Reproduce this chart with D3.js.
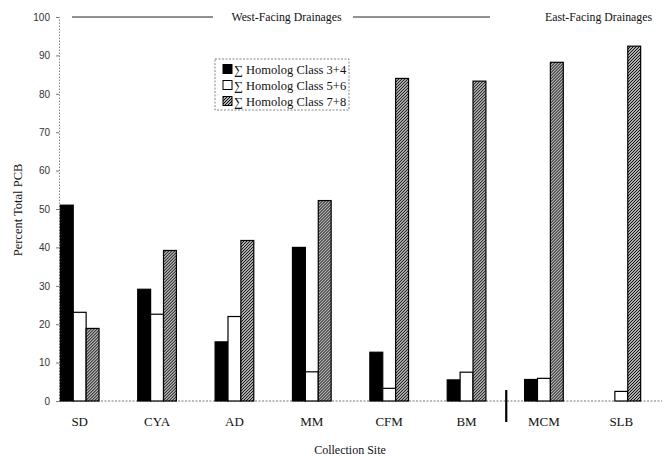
<!DOCTYPE html>
<html>
<head>
<meta charset="utf-8">
<script src="https://cdn.jsdelivr.net/npm/d3@7"></script>
<style>
  body { margin: 0; background: #fff; }
  svg { display: block; }
  .serif { font-family: "Liberation Serif", "Times New Roman", serif; fill: #111; }
  .tick text { font-family: "Liberation Sans", Arial, sans-serif; font-size: 10px; fill: #333; }
</style>
</head>
<body>
<svg width="665" height="456"></svg>
<script>
// Data
var sites = ['SD', 'CYA', 'AD', 'MM', 'CFM', 'BM', 'MCM', 'SLB'];
var class34 = [51, 29.1, 15.4, 40, 12.7, 5.5, 5.6, 0];
var class56 = [23.1, 22.6, 22, 7.6, 3.3, 7.5, 5.9, 2.5];
var class78 = [18.9, 39.2, 41.8, 52.2, 84, 83.3, 88.2, 92.4];
var seriesNames = ['\u2211 Homolog Class 3+4', '\u2211 Homolog Class 5+6', '\u2211 Homolog Class 7+8'];
var yTicks = [0, 10, 20, 30, 40, 50, 60, 70, 80, 90, 100];

var svg = d3.select('svg');

// hatch pattern for class 7+8
var defs = svg.append('defs');
var pat = defs.append('pattern')
    .attr('id', 'hatch')
    .attr('patternUnits', 'userSpaceOnUse')
    .attr('width', 3)
    .attr('height', 3);
pat.append('rect').attr('width', 3).attr('height', 3).attr('fill', '#fff');
pat.append('path')
    .attr('d', 'M-0.75,0.75 L0.75,-0.75 M0,3 L3,0 M2.25,3.75 L3.75,2.25')
    .attr('stroke', '#000')
    .attr('stroke-width', 1.15);

var fills = ['#000', '#fff', 'url(#hatch)'];

var x0 = d3.scaleBand().domain(sites).range([41, 660]).paddingInner(0.5).paddingOuter(0.25);
var x1 = d3.scaleBand().domain([0, 1, 2]).range([0, x0.bandwidth()]);
var y = d3.scaleLinear().domain([0, 100]).range([401, 17]);

// y axis (dotted line)
var yAx = svg.append('g')
    .attr('transform', 'translate(59,0)')
    .call(d3.axisLeft(y).tickValues(yTicks).tickSize(3).tickPadding(6));
yAx.select('.domain')
    .attr('stroke', '#888')
    .attr('stroke-dasharray', '1.5,1.5');
yAx.selectAll('.tick line').attr('stroke', '#777');

// baseline
svg.append('line')
    .attr('x1', 59).attr('x2', 662)
    .attr('y1', y(0)).attr('y2', y(0))
    .attr('stroke', '#777')
    .attr('stroke-dasharray', '2,1.5');

// bars
var rows = sites.map(function(s, i) {
    return {site: s, vals: [class34[i], class56[i], class78[i]]};
});

var groups = svg.selectAll('.grp')
    .data(rows)
    .enter().append('g')
    .attr('class', 'grp')
    .attr('transform', function(d) { return 'translate(' + x0(d.site) + ',0)'; });

groups.selectAll('rect')
    .data(function(d) { return d.vals; })
    .enter().append('rect')
    .attr('x', function(d, i) { return x1(i); })
    .attr('y', function(d) { return y(d); })
    .attr('width', x1.bandwidth())
    .attr('height', function(d) { return y(0) - y(d); })
    .attr('fill', function(d, i) { return fills[i]; })
    .attr('stroke', '#000')
    .attr('stroke-width', function(d) { return d === 0 ? 1.8 : 1.2; });

// x labels
svg.selectAll('.xlab')
    .data(sites)
    .enter().append('text')
    .attr('class', 'serif')
    .attr('x', function(d) { return x0(d) + x0.bandwidth() / 2; })
    .attr('y', 426)
    .attr('text-anchor', 'middle')
    .style('font-size', '13px')
    .text(function(d) { return d; });

// divider between west and east drainages
var divX = (x0('BM') + x0.bandwidth() + x0('MCM')) / 2 + 1;
svg.append('line')
    .attr('x1', divX).attr('x2', divX)
    .attr('y1', 390).attr('y2', 422)
    .attr('stroke', '#000')
    .attr('stroke-width', 2.2);

// axis titles
svg.append('text')
    .attr('class', 'serif')
    .attr('x', 350).attr('y', 454)
    .attr('text-anchor', 'middle')
    .style('font-size', '12px')
    .text('Collection Site');

svg.append('text')
    .attr('class', 'serif')
    .attr('transform', 'translate(22,210) rotate(-90)')
    .attr('text-anchor', 'middle')
    .style('font-size', '12.5px')
    .text('Percent Total PCB');

// drainage headers
var hdrY = 17;
svg.append('line').attr('x1', 72).attr('x2', 213).attr('y1', hdrY).attr('y2', hdrY)
    .attr('stroke', '#222').attr('stroke-width', 1);
svg.append('line').attr('x1', 353).attr('x2', 490).attr('y1', hdrY).attr('y2', hdrY)
    .attr('stroke', '#222').attr('stroke-width', 1);
svg.append('text').attr('class', 'serif')
    .attr('x', 286.5).attr('y', hdrY + 4)
    .attr('text-anchor', 'middle')
    .style('font-size', '11.8px')
    .text('West-Facing Drainages');
svg.append('text').attr('class', 'serif')
    .attr('x', 598.5).attr('y', hdrY + 4)
    .attr('text-anchor', 'middle')
    .style('font-size', '11.8px')
    .text('East-Facing Drainages');

// legend
var leg = svg.append('g').attr('transform', 'translate(215,59)');
leg.append('rect')
    .attr('width', 134).attr('height', 51)
    .attr('fill', '#fff')
    .attr('stroke', '#666')
    .attr('stroke-width', 0.8)
    .attr('stroke-dasharray', '2,1.5');
var items = leg.selectAll('.item')
    .data(seriesNames)
    .enter().append('g')
    .attr('transform', function(d, i) { return 'translate(8,' + (10 + i * 16) + ')'; });
items.append('rect')
    .attr('x', 0).attr('y', -4.5)
    .attr('width', 9).attr('height', 9)
    .attr('fill', function(d, i) { return fills[i]; })
    .attr('stroke', '#000')
    .attr('stroke-width', 1);
items.append('text')
    .attr('class', 'serif')
    .attr('x', 11).attr('y', 4.5)
    .style('font-size', '12.5px')
    .text(function(d) { return d; });
</script>
</body>
</html>
